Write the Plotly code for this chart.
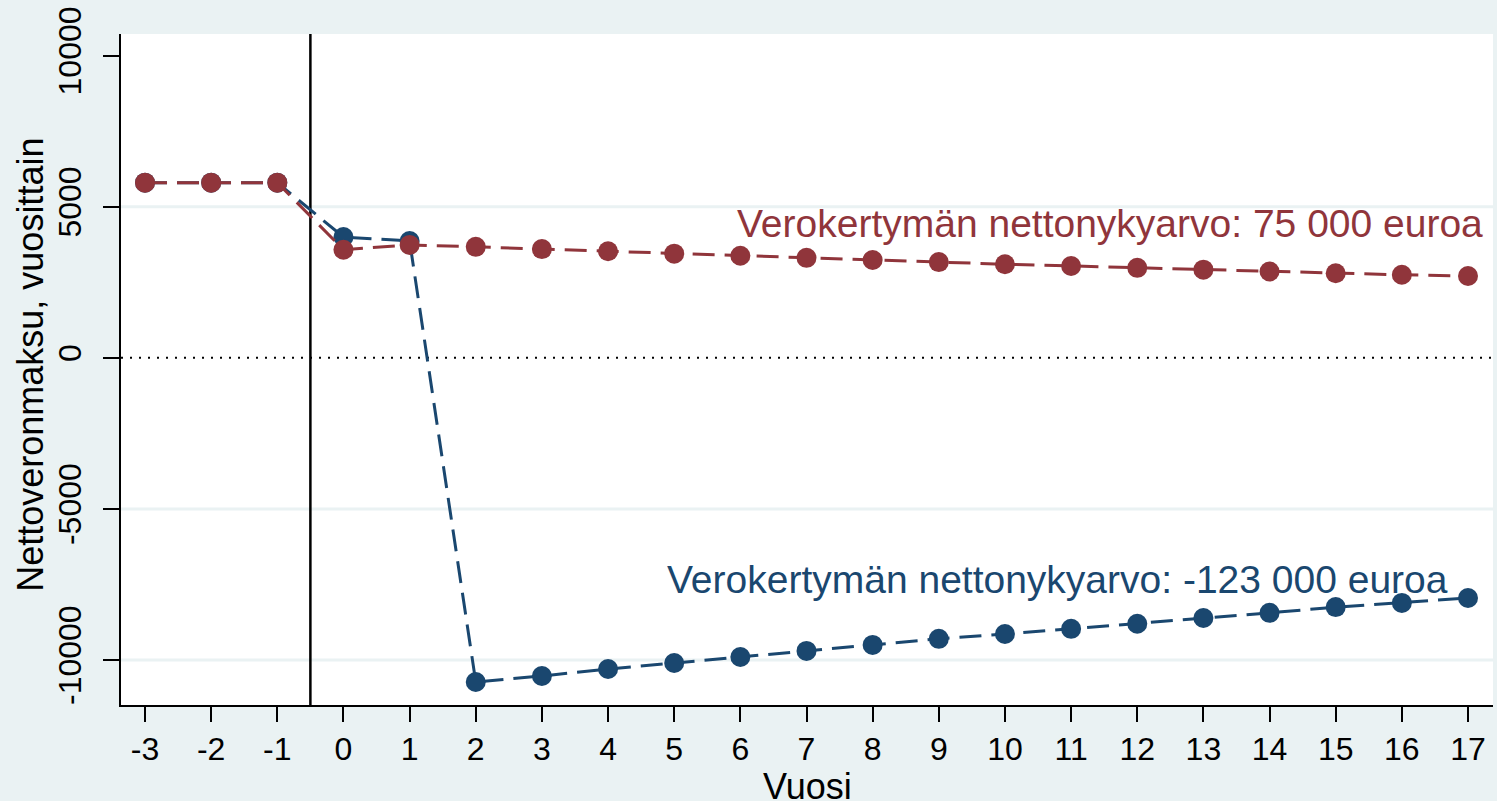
import plotly.graph_objects as go

years = list(range(-3, 18))
red_values = [5800, 5800, 5800, 3580, 3740, 3675, 3600, 3530, 3450, 3380, 3310,
              3240, 3170, 3100, 3040, 2980, 2920, 2860, 2800, 2750, 2710]
blue_values = [5800, 5800, 5800, 4000, 3870, -10730, -10530, -10300, -10100, -9900, -9700,
               -9500, -9300, -9140, -8970, -8800, -8610, -8440, -8250, -8110, -7950]
y_ticks = [10000, 5000, 0, -5000, -10000]
grid_values = [5000, -5000, -10000]
event_x = -0.5
red_label = "Verokertymän nettonykyarvo: 75 000 euroa"
blue_label = "Verokertymän nettonykyarvo: -123 000 euroa"
x_title = "Vuosi"
y_title = "Nettoveronmaksu, vuosittain"

RED = "#90353B"
BLUE = "#1A476F"
BG = "#EAF2F3"
FONT = "Liberation Sans, Arial, sans-serif"

fig = go.Figure()
fig.add_trace(go.Scatter(
    x=years, y=blue_values, mode="lines+markers",
    line=dict(color=BLUE, width=3, dash="22px,10px"),
    marker=dict(color=BLUE, size=20, line=dict(width=0)),
    showlegend=False, cliponaxis=False))
fig.add_trace(go.Scatter(
    x=years, y=red_values, mode="lines+markers",
    line=dict(color=RED, width=3, dash="22px,10px"),
    marker=dict(color=RED, size=20, line=dict(width=0)),
    showlegend=False, cliponaxis=False))

for g in grid_values:
    fig.add_shape(type="line", xref="paper", x0=0, x1=1, yref="y", y0=g, y1=g,
                  line=dict(color=BG, width=3), layer="below")
fig.add_shape(type="line", xref="paper", x0=0, x1=1, yref="y", y0=0, y1=0,
              line=dict(color="black", width=2, dash="2px,7px"), layer="below")
fig.add_shape(type="line", xref="x", x0=event_x, x1=event_x, yref="paper", y0=0, y1=1,
              line=dict(color="black", width=2.5), layer="below")

fig.add_annotation(x=17.26, y=4440, xref="x", yref="y", text=red_label,
                   showarrow=False, xanchor="right", yanchor="middle",
                   font=dict(family=FONT, size=39, color=RED))
fig.add_annotation(x=16.73, y=-7350, xref="x", yref="y", text=blue_label,
                   showarrow=False, xanchor="right", yanchor="middle",
                   font=dict(family=FONT, size=39, color=BLUE))
fig.add_annotation(x=-0.0656, y=0.507, xref="paper", yref="paper", text=y_title,
                   textangle=-90, showarrow=False, xanchor="center", yanchor="middle",
                   font=dict(family=FONT, size=36, color="black"))
fig.add_annotation(x=0.5, y=-0.121, xref="paper", yref="paper", text=x_title,
                   showarrow=False, xanchor="center", yanchor="middle",
                   font=dict(family=FONT, size=36, color="black"))

fig.update_layout(
    width=1497, height=801, autosize=False,
    margin=dict(l=121, r=4, t=34, b=96),
    paper_bgcolor=BG, plot_bgcolor="white",
    font=dict(family=FONT, color="black"),
    showlegend=False,
)
fig.update_xaxes(
    range=[-3.363, 17.378], tickmode="array", tickvals=years,
    ticktext=[str(v) for v in years],
    showgrid=False, zeroline=False, showline=True, linecolor="black", linewidth=2,
    ticks="outside", ticklen=15, tickwidth=2, tickcolor="black",
    tickfont=dict(family=FONT, size=32, color="black"),
    automargin=False,
)
fig.update_yaxes(
    range=[-11490, 10720], tickmode="array", tickvals=y_ticks,
    ticktext=[str(v) for v in y_ticks], tickangle=-90,
    showgrid=False, zeroline=False, showline=True, linecolor="black", linewidth=2,
    ticks="outside", ticklen=16, tickwidth=2, tickcolor="black",
    tickfont=dict(family=FONT, size=32, color="black"),
    ticklabelstandoff=9,
    automargin=False,
)

fig.write_html(
    "out.html",
    config={"displayModeBar": False},
    post_script="document.body.style.margin='0';document.body.style.padding='0';"
                "document.body.style.background='" + BG + "';document.body.style.overflow='hidden';",
)
